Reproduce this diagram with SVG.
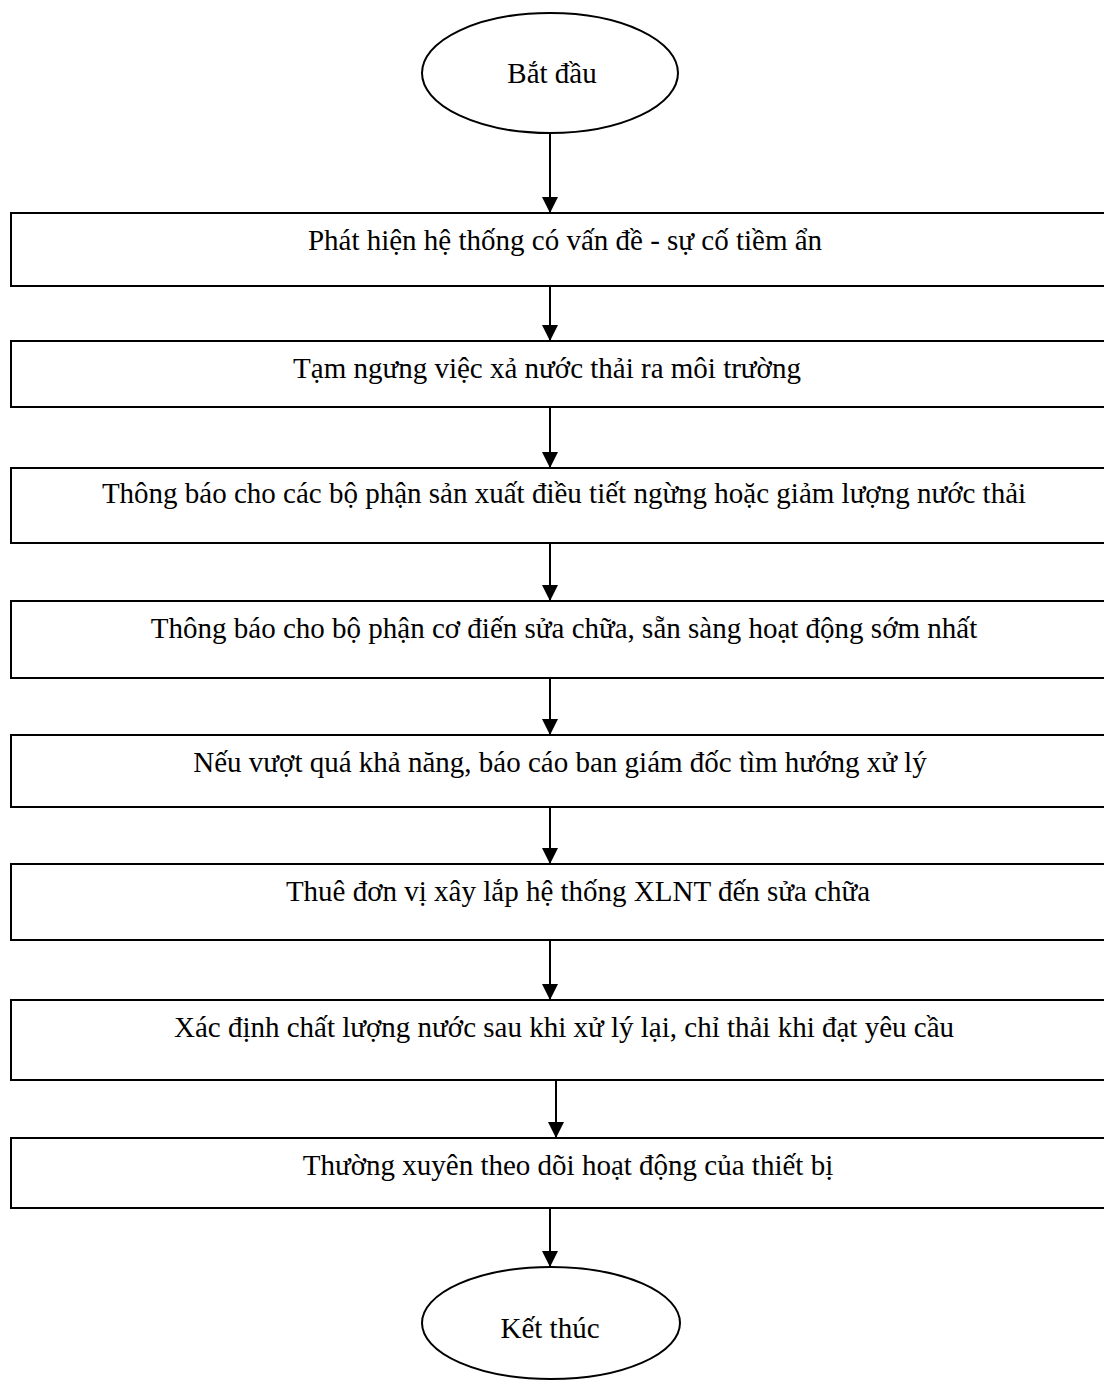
<svg xmlns="http://www.w3.org/2000/svg" width="1104" height="1382" viewBox="0 0 1104 1382">
  <style>
    .shape { fill: #ffffff; stroke: #000000; stroke-width: 2; }
    .label { font-family: "Liberation Serif", "Times New Roman", serif; font-size: 29px; fill: #000000; text-anchor: middle; }
    .link { stroke: #000000; stroke-width: 2; fill: none; marker-end: url(#head); }
  </style>
  <defs>
    <marker id="head" markerUnits="userSpaceOnUse" markerWidth="16" markerHeight="16" refX="16" refY="8" orient="auto">
      <path d="M0,0 L16,8 L0,16 Z" fill="#000000"/>
    </marker>
  </defs>
  <rect width="1104" height="1382" fill="#ffffff"/>

  <g id="start">
    <ellipse class="shape" cx="550" cy="73" rx="128" ry="60"/>
    <text class="label" x="552" y="83">Bắt đầu</text>
  </g>

  <g id="step1">
    <rect class="shape" x="11" y="213" width="1100" height="73"/>
    <text class="label" x="565" y="250">Phát hiện hệ thống có vấn đề - sự cố tiềm ẩn</text>
  </g>

  <g id="step2">
    <rect class="shape" x="11" y="341" width="1100" height="66"/>
    <text class="label" x="547" y="378">Tạm ngưng việc xả nước thải ra môi trường</text>
  </g>

  <g id="step3">
    <rect class="shape" x="11" y="468" width="1100" height="75"/>
    <text class="label" x="564" y="503">Thông báo cho các bộ phận sản xuất điều tiết ngừng hoặc giảm lượng nước thải</text>
  </g>

  <g id="step4">
    <rect class="shape" x="11" y="601" width="1100" height="77"/>
    <text class="label" x="564" y="638">Thông báo cho bộ phận cơ điến sửa chữa, sẵn sàng hoạt động sớm nhất</text>
  </g>

  <g id="step5">
    <rect class="shape" x="11" y="735" width="1100" height="72"/>
    <text class="label" x="560" y="772">Nếu vượt quá khả năng, báo cáo ban giám đốc tìm hướng xử lý</text>
  </g>

  <g id="step6">
    <rect class="shape" x="11" y="864" width="1100" height="76"/>
    <text class="label" x="578" y="901">Thuê đơn vị xây lắp hệ thống XLNT đến sửa chữa</text>
  </g>

  <g id="step7">
    <rect class="shape" x="11" y="1000" width="1100" height="80"/>
    <text class="label" x="564" y="1037">Xác định chất lượng nước sau khi xử lý lại, chỉ thải khi đạt yêu cầu</text>
  </g>

  <g id="step8">
    <rect class="shape" x="11" y="1138" width="1100" height="70"/>
    <text class="label" x="568" y="1175">Thường xuyên theo dõi hoạt động của thiết bị</text>
  </g>

  <g id="end">
    <ellipse class="shape" cx="551" cy="1323" rx="129" ry="56"/>
    <text class="label" x="550" y="1338">Kết thúc</text>
  </g>

  <g id="connectors">
    <line class="link" x1="550" y1="133" x2="550" y2="213"/>
    <line class="link" x1="550" y1="286" x2="550" y2="341"/>
    <line class="link" x1="550" y1="407" x2="550" y2="468"/>
    <line class="link" x1="550" y1="543" x2="550" y2="601"/>
    <line class="link" x1="550" y1="678" x2="550" y2="735"/>
    <line class="link" x1="550" y1="807" x2="550" y2="864"/>
    <line class="link" x1="550" y1="940" x2="550" y2="1000"/>
    <line class="link" x1="556" y1="1080" x2="556" y2="1138"/>
    <line class="link" x1="550" y1="1208" x2="550" y2="1267"/>
  </g>
</svg>
